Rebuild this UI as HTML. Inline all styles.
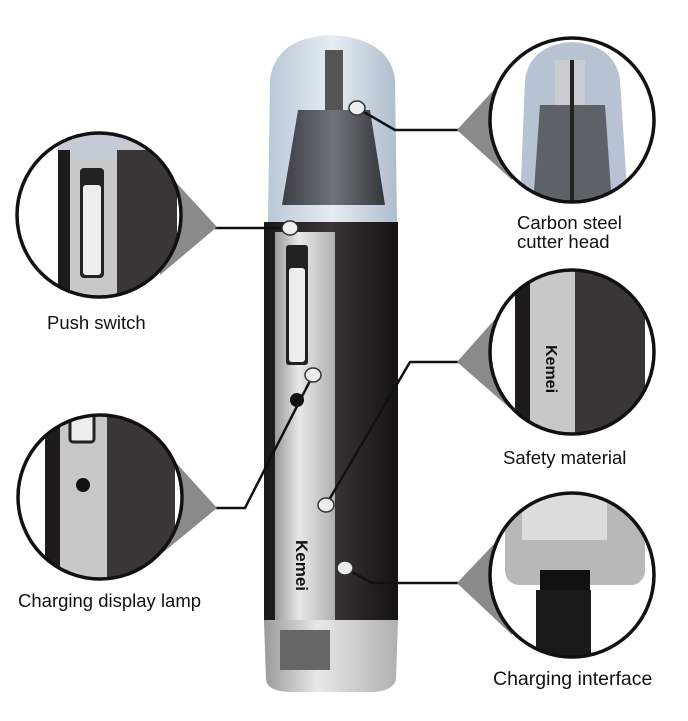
<!DOCTYPE html>
<html><head><style>
html,body{margin:0;padding:0;background:#fff;}
svg{display:block}
text{font-family:"Liberation Sans",sans-serif;font-size:18.5px;fill:#111}
</style></head><body>
<svg width="688" height="721" viewBox="0 0 688 721">
<defs>
<linearGradient id="cap" x1="0" x2="1"><stop offset="0" stop-color="#b9c7d6"/><stop offset=".5" stop-color="#e6edf3"/><stop offset="1" stop-color="#aebccc"/></linearGradient>
<linearGradient id="body" x1="0" x2="1"><stop offset="0" stop-color="#1a1718"/><stop offset=".5" stop-color="#3a3536"/><stop offset="1" stop-color="#141213"/></linearGradient>
<linearGradient id="silver" x1="0" x2="1"><stop offset="0" stop-color="#9a9a9a"/><stop offset=".4" stop-color="#e8e8e8"/><stop offset="1" stop-color="#b0b0b0"/></linearGradient>
<linearGradient id="head" x1="0" x2="1"><stop offset="0" stop-color="#3b3f45"/><stop offset=".5" stop-color="#6f747a"/><stop offset="1" stop-color="#33373c"/></linearGradient>
<clipPath id="c1"><circle cx="572" cy="120" r="82"/></clipPath>
<clipPath id="c2"><circle cx="99" cy="215" r="82"/></clipPath>
<clipPath id="c3"><circle cx="100" cy="497" r="82"/></clipPath>
<clipPath id="c4"><circle cx="572" cy="352" r="82"/></clipPath>
<clipPath id="c5"><circle cx="572" cy="575" r="82"/></clipPath>
</defs>
<path d="M268 222 L270 80 Q275 38 330 35 Q390 38 395 80 L397 222 Z" fill="url(#cap)"/>
<path d="M298 110 L370 110 L385 205 L282 205 Z" fill="url(#head)"/>
<rect x="325" y="50" width="18" height="60" fill="#555"/>
<rect x="264" y="222" width="134" height="400" fill="url(#body)"/>
<rect x="275" y="232" width="60" height="388" fill="url(#silver)"/>
<rect x="286" y="245" width="22" height="120" rx="3" fill="#222"/>
<rect x="289" y="268" width="16" height="94" rx="3" fill="#eee"/>
<circle cx="297" cy="400" r="7" fill="#111"/>
<text x="296" y="540" transform="rotate(90 296 540)" style="font-weight:bold;font-size:17px">Kemei</text>
<path d="M264 620 L398 620 L396 680 Q392 692 370 692 L292 692 Q268 692 266 680 Z" fill="url(#silver)"/>
<rect x="280" y="630" width="50" height="40" fill="#666"/>
<g stroke="#111" stroke-width="2.5" fill="none">
<polyline points="357,108 395,130 460,130"/>
<polyline points="290,228 215,228"/>
<polyline points="313,375 245,508 215,508"/>
<polyline points="326,505 410,362 460,362"/>
<polyline points="345,568 372,583 460,583"/>
</g>
<g fill="#eee" stroke="#333" stroke-width="1.5">
<ellipse cx="357" cy="108" rx="8" ry="7"/><ellipse cx="290" cy="228" rx="8" ry="7"/>
<ellipse cx="313" cy="375" rx="8" ry="7"/><ellipse cx="326" cy="505" rx="8" ry="7"/>
<ellipse cx="345" cy="568" rx="8" ry="7"/>
</g>
<g fill="#8a8a8a">
<polygon points="457,130 512,70 512,180"/>
<polygon points="217,227 160,165 160,275"/>
<polygon points="217,508 160,445 160,555"/>
<polygon points="457,362 512,300 512,410"/>
<polygon points="457,583 512,525 512,635"/>
</g>
<circle cx="572" cy="120" r="82" fill="#fff"/>
<g clip-path="url(#c1)">
<path d="M520 205 L525 80 Q530 45 572 42 Q615 45 620 80 L628 205 Z" fill="#b7c2d2"/>
<path d="M540 105 L605 105 L612 205 L533 205 Z" fill="#5d6268"/>
<rect x="555" y="60" width="30" height="45" fill="#c9ccd0"/>
<rect x="570" y="60" width="4" height="145" fill="#222"/>
</g>
<circle cx="99" cy="215" r="82" fill="#fff"/>
<g clip-path="url(#c2)">
<rect x="58" y="130" width="120" height="30" fill="#c5ccd6"/>
<rect x="58" y="150" width="12" height="160" fill="#1e1b1c"/>
<rect x="70" y="160" width="47" height="150" fill="#c8c8c8"/>
<rect x="117" y="150" width="60" height="160" fill="#3a3536"/>
<rect x="80" y="168" width="24" height="110" rx="4" fill="#222"/>
<rect x="83" y="185" width="18" height="90" rx="3" fill="#eee"/>
</g>
<circle cx="100" cy="497" r="82" fill="#fff"/>
<g clip-path="url(#c3)">
<rect x="45" y="410" width="15" height="180" fill="#1e1b1c"/>
<rect x="60" y="410" width="47" height="180" fill="#c8c8c8"/>
<rect x="107" y="410" width="68" height="180" fill="#3a3536"/>
<rect x="70" y="410" width="24" height="32" rx="3" fill="#eee" stroke="#222" stroke-width="3"/>
<circle cx="83" cy="485" r="7" fill="#111"/>
</g>
<circle cx="572" cy="352" r="82" fill="#fff"/>
<g clip-path="url(#c4)">
<rect x="515" y="265" width="15" height="180" fill="#1e1b1c"/>
<rect x="530" y="265" width="45" height="180" fill="#c8c8c8"/>
<rect x="575" y="265" width="70" height="180" fill="#3a3536"/>
</g>
<text x="546" y="345" transform="rotate(90 546 345)" style="font-weight:bold;font-size:16px">Kemei</text>
<circle cx="572" cy="575" r="82" fill="#fff"/>
<g clip-path="url(#c5)">
<rect x="505" y="490" width="140" height="95" rx="14" fill="#b8b8b8"/>
<rect x="522" y="492" width="85" height="48" fill="#ddd"/>
<rect x="536" y="590" width="55" height="80" fill="#1a1a1a"/>
<rect x="540" y="570" width="50" height="20" fill="#111"/>
</g>
<g stroke="#111" stroke-width="3.5" fill="none">
<circle cx="572" cy="120" r="82"/>
<circle cx="99" cy="215" r="82"/>
<circle cx="100" cy="497" r="82"/>
<circle cx="572" cy="352" r="82"/>
<circle cx="572" cy="575" r="82"/>
</g>
<text x="47" y="329">Push switch</text>
<text x="517" y="229">Carbon steel</text>
<text x="517" y="248">cutter head</text>
<text x="503" y="464">Safety material</text>
<text x="18" y="607">Charging display lamp</text>
<text x="493" y="685" style="font-size:19.5px">Charging interface</text>
</svg>
</body></html>
